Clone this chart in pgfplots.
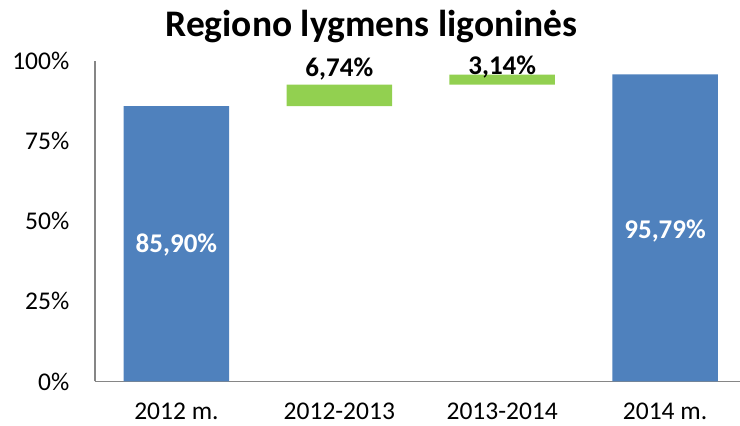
\documentclass[border=0pt]{standalone}
\usepackage{pgfplots}
\pgfplotsset{compat=1.18}
\usepackage{fontspec}
\setmainfont{Carlito}
\definecolor{barblue}{HTML}{4F81BD}
\definecolor{bargreen}{HTML}{92D050}
\definecolor{axgray}{HTML}{868686}
\begin{document}
\begin{tikzpicture}[x=1pt,y=1pt]
\useasboundingbox (0,0) rectangle (740,426);
\begin{axis}[
  at={(95pt,44.5pt)}, anchor=south west,
  scale only axis, width=645pt, height=320.5pt,
  xmin=-0.5, xmax=3.46, ymin=0, ymax=100,
  axis x line*=bottom, axis y line*=left,
  axis line style={axgray, line width=1.2pt},
  ybar stacked, bar width=105.5pt,
  xtick={0,1,2,3}, xticklabels={2012 m.,2012-2013,2013-2014,2014 m.},
  ytick={0,25,50,75,100}, yticklabels={0\%,25\%,50\%,75\%,100\%},
  major tick length=0pt,
  tick label style={font=\fontsize{25.5}{30}\selectfont, inner sep=0pt},
  xticklabel style={anchor=north, yshift=-21.5pt},
  yticklabel style={anchor=east, xshift=-25.5pt},
  clip=false
]
\addplot[fill=none, draw=none, forget plot] coordinates {(0,0) (1,85.90) (2,92.64) (3,0)};
\addplot[fill=barblue, draw=none] coordinates {(0,85.90) (1,0) (2,0) (3,95.79)};
\addplot[fill=bargreen, draw=none] coordinates {(0,0) (1,6.74) (2,3.14) (3,0)};
\coordinate (l0) at (axis cs:0,40.2);
\coordinate (l3) at (axis cs:3,44.5);
\coordinate (l1) at (axis cs:1,95.2);
\coordinate (l2) at (axis cs:2,95.8);
\end{axis}
\node[anchor=base, text=white, font=\bfseries\fontsize{27}{30}\selectfont] at (l0) {85,90\%};
\node[anchor=base, text=white, font=\bfseries\fontsize{27}{30}\selectfont] at (l3) {95,79\%};
\node[anchor=base, text=black, font=\bfseries\fontsize{27}{30}\selectfont] at (l1) {6,74\%};
\node[anchor=base, text=black, font=\bfseries\fontsize{27}{30}\selectfont] at (l2) {3,14\%};
\node[anchor=base, font=\bfseries\fontsize{37.5}{40}\selectfont] at (371.5,389) {Regiono lygmens ligoninės};
\end{tikzpicture}
\end{document}
